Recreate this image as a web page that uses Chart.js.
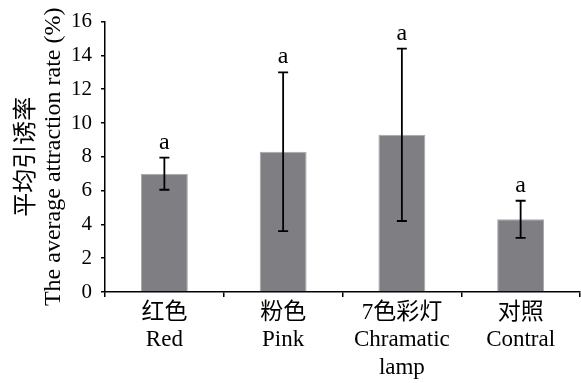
<!DOCTYPE html>
<html>
<head>
<meta charset="utf-8">
<script src="https://cdn.jsdelivr.net/npm/chart.js@4/dist/chart.umd.min.js"></script>
<style>
  html, body { margin: 0; padding: 0; background: #ffffff; }
  canvas { display: block; }
</style>
</head>
<body>
<canvas id="chart" width="581" height="383"></canvas>
<script>
// Mean attraction rate (%) per light treatment, with error bars and significance letters
const categories = [
  ['红色', 'Red'],
  ['粉色', 'Pink'],
  ['7色彩灯', 'Chramatic', 'lamp'],
  ['对照', 'Contral']
];
const meanRates = [7.0, 8.3, 9.3, 4.3];
const errorRates = [0.95, 4.7, 5.1, 1.1];
const sigLetters = ['a', 'a', 'a', 'a'];
const yTicks = [0, 2, 4, 6, 8, 10, 12, 14, 16];

const FONT = "'Liberation Serif', 'Times New Roman', 'Noto Sans CJK SC', serif";

const errorBarPlugin = {
  id: 'errorBars',
  afterDatasetsDraw(chart) {
    const ctx = chart.ctx;
    const y = chart.scales.y;
    const meta = chart.getDatasetMeta(0);
    ctx.save();
    ctx.strokeStyle = '#000000';
    ctx.lineWidth = 1.8;
    ctx.fillStyle = '#000000';
    ctx.font = '24px ' + FONT;
    ctx.textAlign = 'center';
    ctx.textBaseline = 'alphabetic';
    meta.data.forEach((bar, i) => {
      const x = bar.x;
      const top = y.getPixelForValue(meanRates[i] + errorRates[i]);
      const bottom = y.getPixelForValue(meanRates[i] - errorRates[i]);
      const cap = 5;
      ctx.beginPath();
      ctx.moveTo(x, top);
      ctx.lineTo(x, bottom);
      ctx.moveTo(x - cap, top);
      ctx.lineTo(x + cap, top);
      ctx.moveTo(x - cap, bottom);
      ctx.lineTo(x + cap, bottom);
      ctx.stroke();
      ctx.fillText(sigLetters[i], x, top - 9);
    });
    ctx.restore();
  }
};

new Chart(document.getElementById('chart'), {
  type: 'bar',
  data: {
    labels: categories,
    datasets: [{
      data: meanRates,
      backgroundColor: '#7f7e83',
      borderColor: '#a9a9ab',
      borderWidth: 1,
      barPercentage: 0.395,
      categoryPercentage: 1.0
    }]
  },
  options: {
    responsive: false,
    devicePixelRatio: 1,
    animation: false,
    layout: { padding: { top: 20, right: 1, bottom: 0, left: 0 } },
    plugins: {
      legend: { display: false },
      tooltip: { enabled: false }
    },
    scales: {
      x: {
        grid: {
          drawOnChartArea: false,
          drawTicks: true,
          tickLength: 5,
          color: '#000000',
          lineWidth: 1.5,
          offset: true
        },
        border: { display: true, color: '#000000', width: 1.5 },
        ticks: {
          color: '#000000',
          font: { family: FONT, size: 23, lineHeight: 1.2 },
          padding: 2,
          maxRotation: 0,
          autoSkip: false
        },
        afterFit(scale) { scale.height = 91; }
      },
      y: {
        min: 0,
        max: 16,
        afterBuildTicks(scale) { scale.ticks = yTicks.map(v => ({ value: v })); },
        grid: {
          drawOnChartArea: false,
          drawTicks: true,
          tickLength: 4,
          color: '#000000',
          lineWidth: 1.5
        },
        border: { display: true, color: '#000000', width: 1.5 },
        ticks: {
          color: '#000000',
          font: { family: FONT, size: 21 },
          padding: 9
        },
        title: {
          display: true,
          text: ['平均引诱率', 'The average attraction rate (%)'],
          color: '#000000',
          font: { family: FONT, size: 24, lineHeight: 1.1 },
          padding: { top: 14, bottom: 0 }
        },
        afterFit(scale) { scale.width = 105; }
      }
    }
  },
  plugins: [errorBarPlugin]
});
</script>
</body>
</html>
